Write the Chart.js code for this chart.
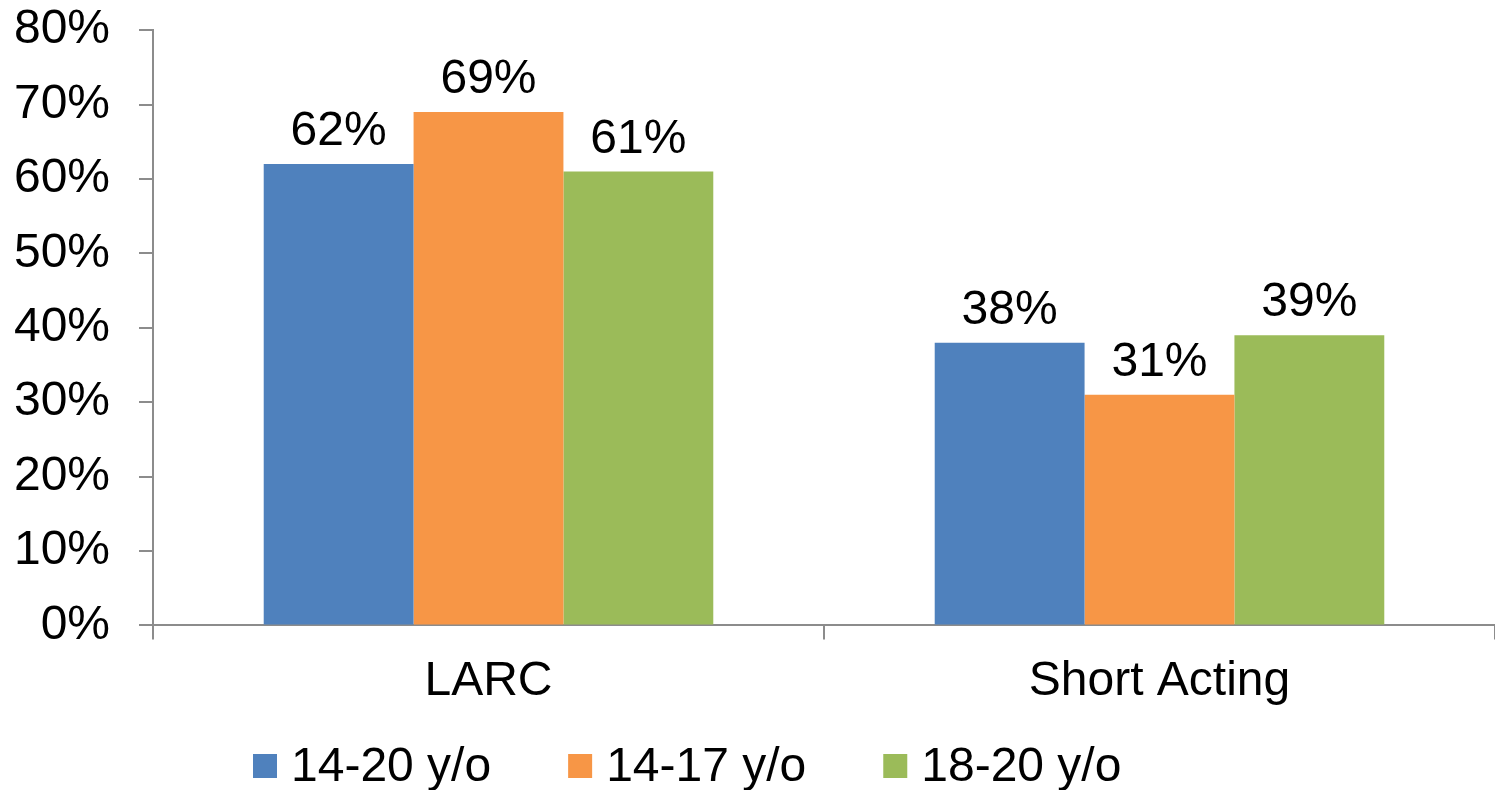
<!DOCTYPE html>
<html>
<head>
<meta charset="utf-8">
<script src="https://cdn.jsdelivr.net/npm/chart.js@4"></script>
<style>
  html, body { margin: 0; padding: 0; background: #fff; }
  #wrap { width: 1495px; height: 790px; }
</style>
</head>
<body>
<div id="wrap"><canvas id="grafico"></canvas></div>
<script>
// Categorias e séries
const categorias = ['LARC', 'Short Acting']
const faixas = ['14-20 y/o', '14-17 y/o', '18-20 y/o']
const valores1420 = [62, 38]
const valores1417 = [69, 31]
const valores1820 = [61, 39]
const cores = ['#4F81BD', '#F79646', '#9BBB59']

const fonte = "'Liberation Sans', Arial, sans-serif"
const tamanho = 48
const corEixo = '#8c8c8c'

// Rótulos de valor acima das barras
const rotulosPlugin = {
    id: 'rotulos',
    afterDatasetsDraw(chart) {
        const ctx = chart.ctx
        ctx.save()
        ctx.font = `${tamanho}px ${fonte}`
        ctx.fillStyle = '#000'
        ctx.textAlign = 'center'
        ctx.textBaseline = 'alphabetic'
        chart.data.datasets.forEach((ds, i) => {
            chart.getDatasetMeta(i).data.forEach((bar, j) => {
                ctx.fillText(ds.data[j] + '%', bar.x, bar.y - 19)
            })
        })
        ctx.restore()
    }
}

// Legenda desenhada embaixo
const legendaPlugin = {
    id: 'legendaBaixo',
    afterDraw(chart) {
        const ctx = chart.ctx
        ctx.save()
        ctx.font = `${tamanho}px ${fonte}`
        ctx.textBaseline = 'middle'
        ctx.textAlign = 'left'
        let x = 253
        const y = 766
        chart.data.datasets.forEach(ds => {
            ctx.fillStyle = ds.backgroundColor
            ctx.fillRect(x, y - 12, 24, 24)
            ctx.fillStyle = '#000'
            ctx.fillText(ds.label, x + 38, y + 2)
            x += 38 + ctx.measureText(ds.label).width + 77
        })
        ctx.restore()
    }
}

new Chart(document.getElementById('grafico'), {
    type: 'bar',
    data: {
        labels: categorias,
        datasets: [
            { label: faixas[0], data: valores1420, backgroundColor: cores[0] },
            { label: faixas[1], data: valores1417, backgroundColor: cores[1] },
            { label: faixas[2], data: valores1820, backgroundColor: cores[2] }
        ]
    },
    options: {
        responsive: true,
        maintainAspectRatio: false,
        animation: false,
        layout: { padding: { top: 0, left: 0, right: 0, bottom: 65 } },
        datasets: {
            bar: { categoryPercentage: 0.67, barPercentage: 1, borderWidth: 0 }
        },
        plugins: {
            legend: { display: false },
            tooltip: { enabled: false }
        },
        scales: {
            x: {
                grid: { drawOnChartArea: false, drawTicks: true, tickLength: 14, color: corEixo, lineWidth: 2 },
                border: { color: corEixo, width: 2 },
                ticks: { color: '#000', padding: 14, font: { family: fonte, size: tamanho } }
            },
            y: {
                min: 0,
                max: 80,
                afterFit: scale => { scale.width = 153 },
                grid: { drawOnChartArea: false, drawTicks: true, tickLength: 14, color: corEixo, lineWidth: 2 },
                border: { color: corEixo, width: 2 },
                ticks: {
                    stepSize: 10,
                    color: '#000',
                    padding: 29,
                    font: { family: fonte, size: tamanho, lineHeight: 0.05 },
                    callback: v => v + '%'
                }
            }
        }
    },
    plugins: [rotulosPlugin, legendaPlugin]
})
</script>
</body>
</html>
